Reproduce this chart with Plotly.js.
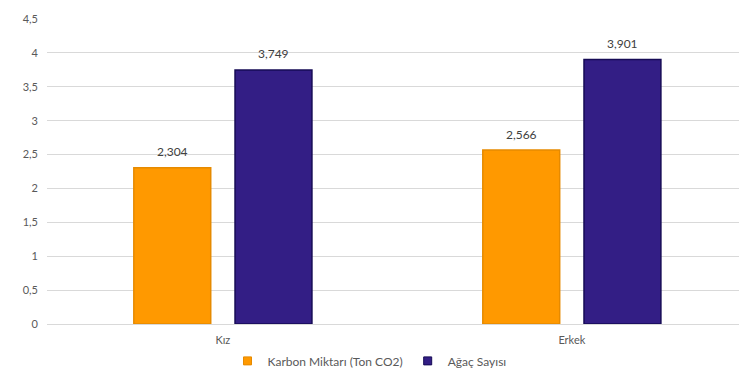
<!DOCTYPE html>
<html>
<head>
<meta charset="utf-8">
<script src="https://cdn.plot.ly/plotly-3.0.1.min.js"></script>
<style>html,body{margin:0;padding:0;background:#fff;}#chart{width:739px;height:369px;}</style>
</head>
<body>
<div id="chart"></div>
<script>
const categories = ["Kız", "Erkek"];
const seriesNames = ["Karbon Miktarı (Ton CO2)", "Ağaç Sayısı"];
const karbonValues = [2.304, 2.566];
const agacValues = [3.749, 3.901];
const yTickValues = [0, 0.5, 1, 1.5, 2, 2.5, 3, 3.5, 4, 4.5];

const fontFam = "Lato, 'Open Sans', sans-serif";
const series = [karbonValues, agacValues];
const fills = ["#FF9900", "#331E85"];
const borders = ["#E68A00", "#160B55"];
const offsets = [-0.145, 0.145];

const traces = series.map((vals, s) => ({
  type: "bar",
  name: seriesNames[s],
  x: categories,
  y: vals,
  marker: {color: fills[s], line: {color: borders[s], width: 1.5}},
  showlegend: false,
  hoverinfo: "none"
}));

// legend-only entries with small square keys
series.forEach((vals, s) => {
  traces.push({
    type: "scatter",
    mode: "markers",
    name: seriesNames[s],
    x: [null], y: [null],
    marker: {symbol: "square", size: 8, color: fills[s], line: {color: borders[s], width: 1}},
    showlegend: true,
    hoverinfo: "none"
  });
});

const annotations = [];
series.forEach((vals, s) => {
  vals.forEach((v, i) => {
    annotations.push({
      xref: "x", yref: "y",
      x: i + offsets[s], y: v,
      text: v.toFixed(3).replace(".", ","),
      showarrow: false,
      yanchor: "middle",
      yshift: 16,
      font: {family: fontFam, size: 12, color: "#404040"}
    });
  });
});

const layout = {
  width: 739, height: 369,
  margin: {l: 47, r: 0, t: 19, b: 45},
  paper_bgcolor: "#ffffff",
  plot_bgcolor: "#ffffff",
  separators: ",.",
  barmode: "group",
  bargap: 0.42,
  bargroupgap: 0.24,
  showlegend: true,
  legend: {
    orientation: "h",
    xref: "container", yref: "container",
    x: 0.5, xanchor: "center",
    y: 0.022, yanchor: "middle",
    font: {family: fontFam, size: 12, color: "#595959"},
    itemwidth: 30,
    traceorder: "normal"
  },
  xaxis: {
    type: "category",
    range: [-0.504, 1.479],
    showgrid: false,
    zeroline: false,
    showline: false,
    ticks: "",
    ticklabelstandoff: 8,
    tickfont: {family: fontFam, size: 11, color: "#595959"}
  },
  yaxis: {
    range: [0, 4.5],
    tickvals: yTickValues,
    showgrid: true,
    gridcolor: "#D9D9D9",
    gridwidth: 1,
    zeroline: true,
    zerolinecolor: "#D9D9D9",
    zerolinewidth: 1,
    showline: false,
    ticks: "",
    ticklabelstandoff: 8,
    tickfont: {family: fontFam, size: 11, color: "#595959"}
  },
  annotations: annotations
};

Plotly.newPlot("chart", traces, layout, {displayModeBar: false, staticPlot: true});
</script>
</body>
</html>
